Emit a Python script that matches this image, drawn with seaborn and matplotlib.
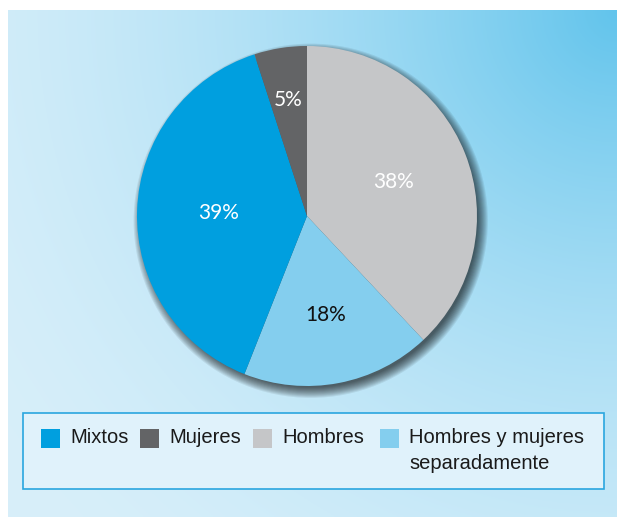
import numpy as np
import matplotlib
matplotlib.use("Agg")
import matplotlib.pyplot as plt
import seaborn as sns
from matplotlib.patches import Circle, Rectangle
from matplotlib.colors import to_rgb

# data (order as drawn clockwise from 12 o'clock)
categories = ["Hombres", "Hombres y mujeres\nseparadamente", "Mixtos", "Mujeres"]
shares = [38, 18, 39, 5]
slice_colors = ["#C5C6C8", "#84CEEE", "#009FDF", "#636466"]
pct_colors = ["white", "#111111", "white", "white"]
pct_radius = [0.55, 0.59, 0.52, 0.69]

legend_order = ["Mixtos", "Mujeres", "Hombres", "Hombres y mujeres\nseparadamente"]

sns.set_theme(style="white")
plt.rcParams['font.family'] = ['Liberation Sans Narrow', 'Liberation Sans', 'DejaVu Sans']

W, H = 617, 518
fig = plt.figure(figsize=(W / 100, H / 100), dpi=100, facecolor="white")

# background panel in pixel coords
bg = fig.add_axes([0, 0, 1, 1])
bg.set_xlim(0, W)
bg.set_ylim(H, 0)
bg.axis("off")

px0, px1, py0, py1 = 8, 617, 10, 517
xx, yy = np.meshgrid(np.linspace(px0, px1, 300), np.linspace(py0, py1, 250))
d = np.hypot(xx - px1, yy - py0) / np.hypot(px1 - px0, py1 - py0)
t = np.clip(1 - d, 0, 1) ** 1.8
c_light = np.array(to_rgb("#D8EFFA"))
c_dark = np.array(to_rgb("#62C4EC"))
grad = c_light[None, None, :] * (1 - t[..., None]) + c_dark[None, None, :] * t[..., None]
bg.imshow(grad, extent=(px0, px1, py1, py0), aspect="auto", zorder=0)

# legend box
bg.add_patch(Rectangle((23, 413), 581, 76, facecolor="#E0F2FB",
                       edgecolor="#2AA6DF", lw=1.2, zorder=1))
color_of = dict(zip(categories, slice_colors))
leg_x = [41, 140, 253, 380]
for name, x in zip(legend_order, leg_x):
    bg.add_patch(Rectangle((x, 429), 19, 19, facecolor=color_of[name],
                           edgecolor="none", zorder=2))
    bg.text(x + 29, 428, name, fontsize=14.5, color="#1a1a1a", va="top",
            ha="left", linespacing=1.45, zorder=3)

# pie
r_px = 170
cx, cy = 307, 216
ax = fig.add_axes([(cx - r_px) / W, (H - cy - r_px) / H, 2 * r_px / W, 2 * r_px / H])
ax.patch.set_alpha(0)

# soft drop shadow
for k in range(-3, 8):
    ax.add_patch(Circle((0.022, -0.028), 1 + 0.006 * k, color="black",
                        alpha=0.075, lw=0, zorder=0, clip_on=False))

wedges, _, autotexts = ax.pie(shares, colors=slice_colors, startangle=90,
                              counterclock=False, autopct="%d%%",
                              wedgeprops=dict(linewidth=0, zorder=2),
                              textprops=dict(fontsize=15))
for w in wedges:
    w.set_clip_on(False)
for w, txt, rr, col in zip(wedges, autotexts, pct_radius, pct_colors):
    ang = np.deg2rad((w.theta1 + w.theta2) / 2)
    txt.set_position((rr * np.cos(ang), rr * np.sin(ang)))
    txt.set_color(col)
    txt.set_family(['Lato', 'DejaVu Sans'])
    txt.set_zorder(5)
ax.set_xlim(-1, 1)
ax.set_ylim(-1, 1)
ax.axis("off")

fig.savefig("out.png", dpi=100, facecolor="white")
